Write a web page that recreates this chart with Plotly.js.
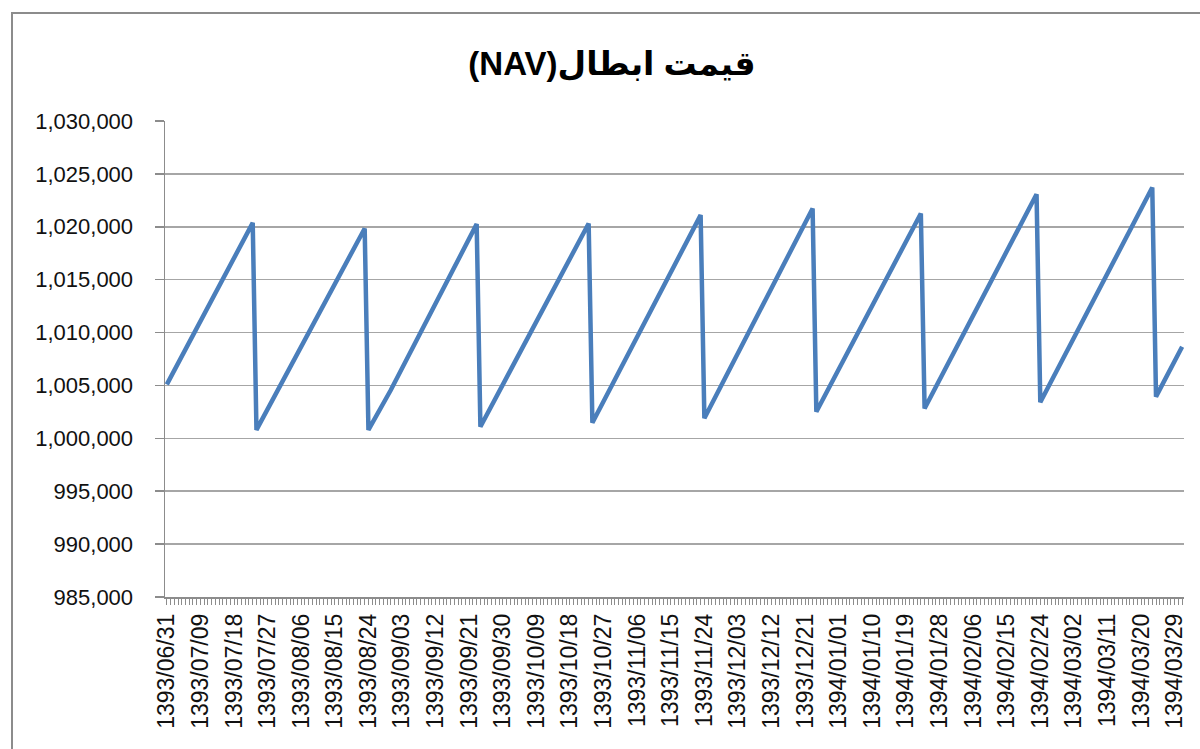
<!DOCTYPE html>
<html>
<head>
<meta charset="utf-8">
<script src="https://cdn.plot.ly/plotly-3.0.1.min.js"></script>
<style>
  html, body { margin: 0; padding: 0; background: #ffffff; }
  #chart { width: 1200px; height: 749px; position: absolute; left: 0; top: 0; }
  #frame { position: absolute; left: 11px; top: 12px; width: 1200px; height: 760px;
           border: 2px solid #8c8c8c; pointer-events: none; box-sizing: border-box; }
</style>
</head>
<body>
<div id="chart"></div>
<div id="frame"></div>
<script>
// ---- Data -------------------------------------------------------------
// Calendar (Jalali) day-by-day category axis: start day and month lengths
const startDate = '1393/06/31';
const calendarMonths = [
  {y: 1393, m: 7, days: 30}, {y: 1393, m: 8, days: 30}, {y: 1393, m: 9, days: 30},
  {y: 1393, m: 10, days: 30}, {y: 1393, m: 11, days: 30}, {y: 1393, m: 12, days: 29},
  {y: 1394, m: 1, days: 31}, {y: 1394, m: 2, days: 31}, {y: 1394, m: 3, days: 31}
];
const pad2 = n => (n < 10 ? '0' : '') + n;
const categories = [startDate];
calendarMonths.forEach(mo => {
  for (let d = 1; d <= mo.days; d++) categories.push(mo.y + '/' + pad2(mo.m) + '/' + pad2(d));
});

// Tick labels shown on the axis
const tickLabelDates = [
  '1393/06/31','1393/07/09','1393/07/18','1393/07/27','1393/08/06','1393/08/15',
  '1393/08/24','1393/09/03','1393/09/12','1393/09/21','1393/09/30','1393/10/09',
  '1393/10/18','1393/10/27','1393/11/06','1393/11/15','1393/11/24','1393/12/03',
  '1393/12/12','1393/12/21','1394/01/01','1394/01/10','1394/01/19','1394/01/28',
  '1394/02/06','1394/02/15','1394/02/24','1394/03/02','1394/03/11','1394/03/20',
  '1394/03/29'
];

// NAV readings (values read at the turning points of the series)
const navDates = [
  '1393/06/31','1393/07/23','1393/07/24','1393/08/23','1393/08/24','1393/08/30',
  '1393/09/23','1393/09/24','1393/10/23','1393/10/24','1393/11/23','1393/11/24',
  '1393/12/23','1393/12/24','1394/01/23','1394/01/24','1394/02/23','1394/02/24',
  '1394/03/23','1394/03/24','1394/03/31'
];
const navValues = [
  1005100, 1020370, 1000800, 1019840, 1000800, 1004570,
  1020250, 1001100, 1020310, 1001480, 1021100, 1001900,
  1021730, 1002520, 1021260, 1002820, 1023080, 1003410,
  1023710, 1003940, 1008660
];

const chartTitle = 'قیمت ابطال(NAV)';

// ---- Chart ------------------------------------------------------------
const tickText = categories.map(c => tickLabelDates.indexOf(c) >= 0 ? c : '');

const trace = {
  type: 'scatter',
  mode: 'lines',
  x: navDates,
  y: navValues,
  line: {color: '#4a7ebb', width: 4.5},
  hoverinfo: 'skip'
};

const axisGray = '#8c8c8c';
const layout = {
  width: 1200,
  height: 749,
  margin: {l: 165, r: 16, t: 121, b: 152},
  paper_bgcolor: '#ffffff',
  plot_bgcolor: '#ffffff',
  showlegend: false,
  font: {family: 'Liberation Sans, Arial, sans-serif', color: '#111111'},
  title: {
    // RTL embedding so the parenthesised Latin part sits on the left as in the original
    text: '<b>\u202B' + chartTitle + '\u202C</b>',
    font: {family: 'Liberation Sans, DejaVu Sans, Arial, sans-serif', size: 33, color: '#000000'},
    x: 0.51, xref: 'container', xanchor: 'center',
    y: 0.915, yref: 'container', yanchor: 'middle'
  },
  xaxis: {
    type: 'category',
    categoryorder: 'array',
    categoryarray: categories,
    range: [-0.5, categories.length - 0.5],
    tickmode: 'array',
    tickvals: categories,
    ticktext: tickText,
    tickangle: -90,
    tickfont: {size: 23, color: '#111111'},
    ticks: 'outside',
    ticklen: 6,
    tickwidth: 1,
    tickcolor: axisGray,
    showgrid: false,
    showline: true,
    linecolor: axisGray,
    linewidth: 1.5,
    zeroline: false,
    fixedrange: true
  },
  yaxis: {
    range: [985000, 1030000],
    tickmode: 'linear',
    tick0: 985000,
    dtick: 5000,
    tickformat: ',.0f',
    tickfont: {size: 22, color: '#111111'},
    ticks: 'outside',
    ticklen: 9,
    tickwidth: 1.5,
    tickcolor: axisGray,
    ticklabelstandoff: 17,
    showgrid: true,
    gridcolor: '#a6a6a6',
    gridwidth: 1.5,
    showline: true,
    linecolor: axisGray,
    linewidth: 1.5,
    zeroline: false,
    fixedrange: true
  }
};

Plotly.newPlot('chart', [trace], layout, {displayModeBar: false, staticPlot: true});
</script>
</body>
</html>
